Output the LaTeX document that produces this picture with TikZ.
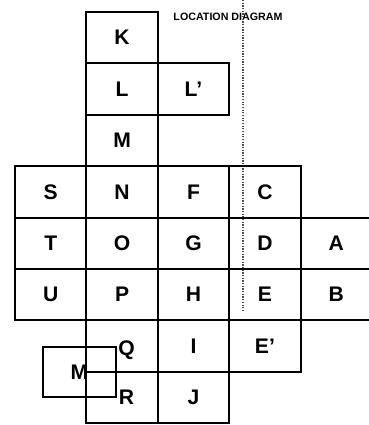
\documentclass[tikz,border=0pt]{standalone}
\usepackage{fontspec}
\setmainfont{Liberation Sans}
\tikzset{
      sheetbox/.style={
        draw=black,
        line width=1.3pt,
        minimum width=1.785cm,
        minimum height=1.285cm,
        inner sep=0pt,
        outer sep=0pt,
        font=\fontsize{15}{18}\selectfont\bfseries
      },
      titletext/.style={
        inner sep=0pt,
        font=\fontsize{7.6}{9}\selectfont\bfseries
      },
      scanline/.style={
        densely dotted,
        line width=0.9pt,
        color=black!70
      }
    }
\begin{document}
\begin{tikzpicture}[x=1cm,y=1cm]
    \useasboundingbox (-0.375,-10.325) rectangle (8.825,0.3);
    \node[titletext] (title) at (5.325,-0.125) {LOCATION DIAGRAM};
    \draw[scanline] (5.7,0.3) -- (5.7,-7.5);
    % column of K, L, M
    \node[sheetbox] (sK) at (2.6775,-0.6425) {K};
    \node[sheetbox] (sL) at (2.6775,-1.9275) {L};
    \node[sheetbox] (sLp) at (4.4625,-1.9275) {L'};
    \node[sheetbox] (sM) at (2.6775,-3.2125) {M};
    % full rows
    \node[sheetbox] (sS) at (0.8925,-4.4975) {S};
    \node[sheetbox] (sN) at (2.6775,-4.4975) {N};
    \node[sheetbox] (sF) at (4.4625,-4.4975) {F};
    \node[sheetbox] (sC) at (6.2475,-4.4975) {C};
    \node[sheetbox] (sT) at (0.8925,-5.7825) {T};
    \node[sheetbox] (sO) at (2.6775,-5.7825) {O};
    \node[sheetbox] (sG) at (4.4625,-5.7825) {G};
    \node[sheetbox] (sD) at (6.2475,-5.7825) {D};
    \node[sheetbox] (sA) at (8.0325,-5.7825) {A};
    \node[sheetbox] (sU) at (0.8925,-7.0675) {U};
    \node[sheetbox] (sP) at (2.6775,-7.0675) {P};
    \node[sheetbox] (sH) at (4.4625,-7.0675) {H};
    \node[sheetbox] (sE) at (6.2475,-7.0675) {E};
    \node[sheetbox] (sB) at (8.0325,-7.0675) {B};
    % lower rows, labels of Q and R pushed clear of the offset sheet
    \node[sheetbox] (sQ) at (2.6775,-8.3525) {\hspace{0.22cm}\raisebox{-3pt}[\height][\depth]{Q}};
    \node[sheetbox] (sI) at (4.4625,-8.3525) {I};
    \node[sheetbox] (sEp) at (6.2475,-8.3525) {E'};
    \node[sheetbox] (sR) at (2.6775,-9.6375) {\hspace{0.22cm}R};
    \node[sheetbox] (sJ) at (4.4625,-9.6375) {J};
    % offset sheet
    \node[sheetbox, minimum width=1.825cm, minimum height=1.25cm] (sMx) at (1.6125,-9.0) {M};
    \end{tikzpicture}
\end{document}
